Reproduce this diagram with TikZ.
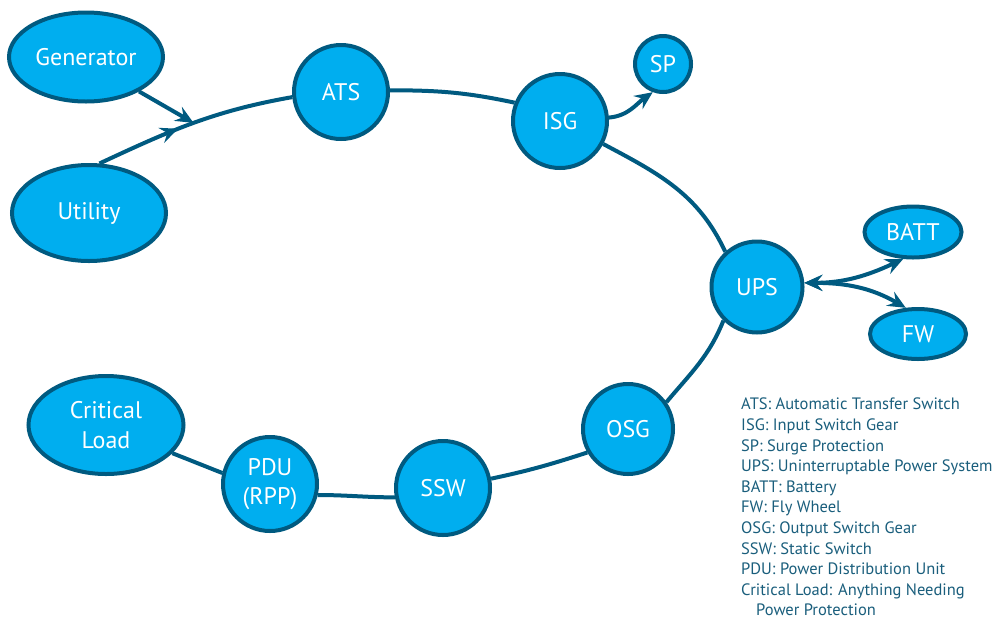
\documentclass[tikz,border=0pt]{standalone}
\usepackage{fontspec}
\setmainfont{PT Sans}
\usetikzlibrary{arrows.meta,decorations.markings,shapes.geometric}
\definecolor{fillc}{HTML}{00AEEF}
\definecolor{linec}{HTML}{005A80}
\definecolor{textc}{HTML}{1A5E7C}
\begin{document}
\begin{tikzpicture}[x=1pt,y=1pt,
  bub/.style={circle,draw=linec,fill=fillc,line width=4pt,text=white,
    font=\fontsize{24}{29.5}\selectfont,inner sep=0pt,minimum size=#1,align=center},
  ell/.style 2 args={ellipse,draw=linec,fill=fillc,line width=4pt,text=white,
    font=\fontsize{24}{29.5}\selectfont,inner sep=0pt,minimum width=#1,minimum height=#2,align=center},
  conn/.style={draw=linec,line width=4pt},
  tipb/.style={-{Stealth[length=18pt,width=16pt,inset=6.5pt]}},
  dbl/.style={{Stealth[length=18pt,width=16pt,inset=6.5pt]}-{Stealth[length=18pt,width=16pt,inset=6.5pt]}},
  midarrow/.style={postaction={decorate},decoration={markings,
    mark=at position #1 with {\arrow{Stealth[length=18pt,width=16pt,inset=6.5pt]}}}}
]
\useasboundingbox (0,0) rectangle (995,-622);

\node[ell={154}{89}] (gen) at (86,-57) {Generator};
\node[ell={154}{96}] (util) at (89,-213) {Utility};
\node[bub=94] (ats) at (341,-92) {ATS};
\node[bub=94] (isg) at (560,-121) {ISG};
\node[bub=56] (sp) at (663,-64) {SP};
\node[ell={97}{51}] (batt) at (913,-232) {BATT};
\node[bub=91] (ups) at (757,-287) {UPS};
\node[ell={96}{50}] (fw) at (918,-334) {FW};
\node[bub=90] (osg) at (628,-429) {OSG};
\node[bub=94] (ssw) at (443,-488) {SSW};
\node[bub=94] (pdu) at (270,-484) {PDU\\(RPP)};
\node[ell={155}{98}] (cl) at (106,-425) {Critical\\Load};

\draw[conn,midarrow=0.42] (util.78) to[out=25,in=190] coordinate[pos=0.5] (j) (ats.186);
\draw[conn,tipb] (gen.-33) -- (j);
\draw[conn] (ats.2) to[out=0,in=168] (isg.158);
\draw[conn,tipb] (isg.4) to[out=5,in=215] (sp.-110);
\draw[conn] (isg.-28) to[out=-28,in=115] (ups.132);
\draw[conn,dbl] (ups.5) to[out=0,in=205] (batt.-110);
\draw[conn,dbl] (ups.5) to[out=0,in=150] (fw.115);
\draw[conn] (ups.-135) to[out=-112,in=50] (osg.35);
\draw[conn] (osg.-150) to[out=198,in=12] (ssw.11);
\draw[conn] (ssw.191) to[out=180,in=0] (pdu.-13);
\draw[conn] (pdu.167) -- (cl.-23);

\node[anchor=north west,inner sep=0pt,align=left,text=textc,
  font=\fontsize{16.5}{20.6}\selectfont] (legend) at (741,-398) {%
ATS: Automatic Transfer Switch\\
ISG: Input Switch Gear\\
SP: Surge Protection\\
UPS: Uninterruptable Power System\\
BATT: Battery\\
FW: Fly Wheel\\
OSG: Output Switch Gear\\
SSW: Static Switch\\
PDU: Power Distribution Unit\\
Critical Load: Anything Needing\\
\hspace*{15pt}Power Protection};
\end{tikzpicture}
\end{document}
